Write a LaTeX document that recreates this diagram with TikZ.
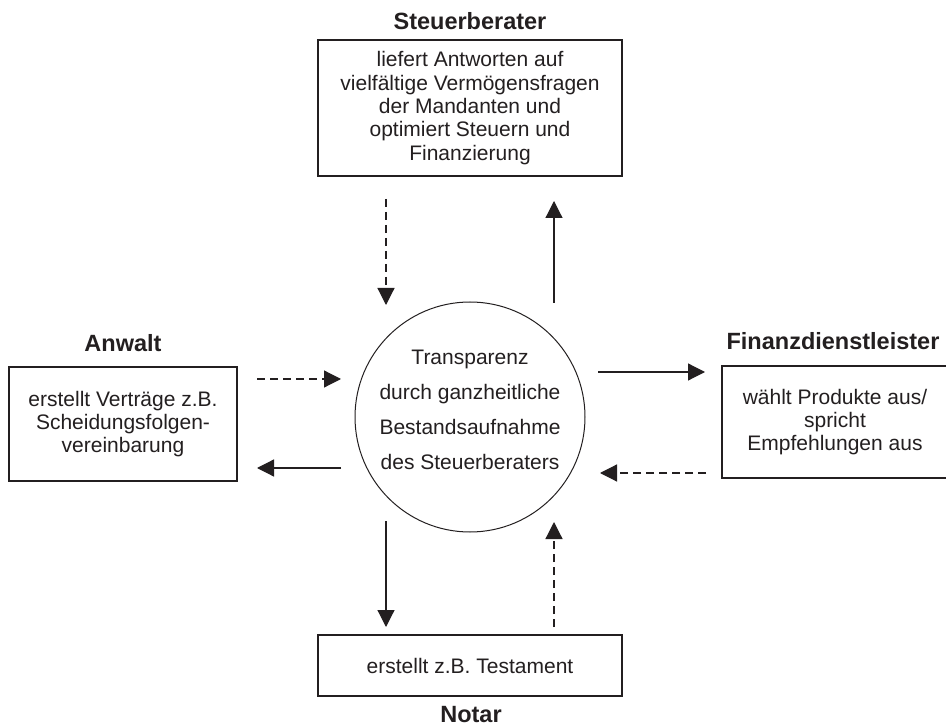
\documentclass[tikz,border=0pt]{standalone}
\usepackage{fontspec}
\setmainfont{Liberation Sans}
\usetikzlibrary{arrows.meta}
\definecolor{ink}{HTML}{231F20}
\begin{document}
\begin{tikzpicture}[x=1pt,y=-1pt,
  every node/.style={text=ink},
  txt/.style={font=\fontsize{21}{23.4}\selectfont, align=center, inner sep=0pt},
  box/.style={txt, draw=ink, line width=1.3pt},
  ttl/.style={font=\fontsize{23.5}{26}\selectfont\bfseries, inner sep=0pt},
  arr/.style={draw=ink, line width=1.2pt, -{Triangle[length=17pt,width=17pt]}},
  darr/.style={arr, dash pattern=on 8pt off 5pt}]
\useasboundingbox (0,0) rectangle (946,727);
\fill[white] (0,0) rectangle (946,727);

% boxes
\node[box, minimum width=304pt, minimum height=136pt] (tb) at (470,108)
  {liefert Antworten auf\\vielfältige Vermögensfragen\\der Mandanten und\\optimiert Steuern und\\Finanzierung};
\node[box, minimum width=228pt, minimum height=114pt] (lb) at (123,424)
  {erstellt Verträge z.B.\\Scheidungsfolgen-\\vereinbarung};
\node[box, minimum width=226pt, minimum height=112pt] (rb) at (835,422)
  {wählt Produkte aus/\\spricht\\Empfehlungen aus};
\node[box, minimum width=304pt, minimum height=61pt] (bb) at (470,665.5)
  {erstellt z.B. Testament};

% titles
\node[ttl] (tt) at (470,21) {Steuerberater};
\node[ttl] (lt) at (123,343) {Anwalt};
\node[ttl] (rt) at (833,341) {Finanzdienstleister};
\node[ttl] (bt) at (471,715) {Notar};

% centre circle
\node[circle, draw=ink, line width=1pt, minimum size=230pt, inner sep=0pt] (c) at (470,417) {};
\node[txt, font=\fontsize{21}{35}\selectfont] (ct) at (470,410)
  {Transparenz\\durch ganzheitliche\\Bestandsaufnahme\\des Steuerberaters};

% connector end points
\coordinate (t1a) at (386,199); \coordinate (t1b) at (386,305);
\coordinate (t2a) at (554,303); \coordinate (t2b) at (554,201);
\coordinate (l1a) at (257,379); \coordinate (l1b) at (341,379);
\coordinate (l2a) at (341,468); \coordinate (l2b) at (257,468);
\coordinate (r1a) at (598,372); \coordinate (r1b) at (705,372);
\coordinate (r2a) at (706,473); \coordinate (r2b) at (600,473);
\coordinate (b1a) at (386,521); \coordinate (b1b) at (386,627);
\coordinate (b2a) at (554,627); \coordinate (b2b) at (554,522);

\draw[darr] (t1a) -- (t1b);
\draw[arr]  (t2a) -- (t2b);
\draw[darr] (l1a) -- (l1b);
\draw[arr]  (l2a) -- (l2b);
\draw[arr]  (r1a) -- (r1b);
\draw[darr] (r2a) -- (r2b);
\draw[arr]  (b1a) -- (b1b);
\draw[darr] (b2a) -- (b2b);
\end{tikzpicture}
\end{document}
